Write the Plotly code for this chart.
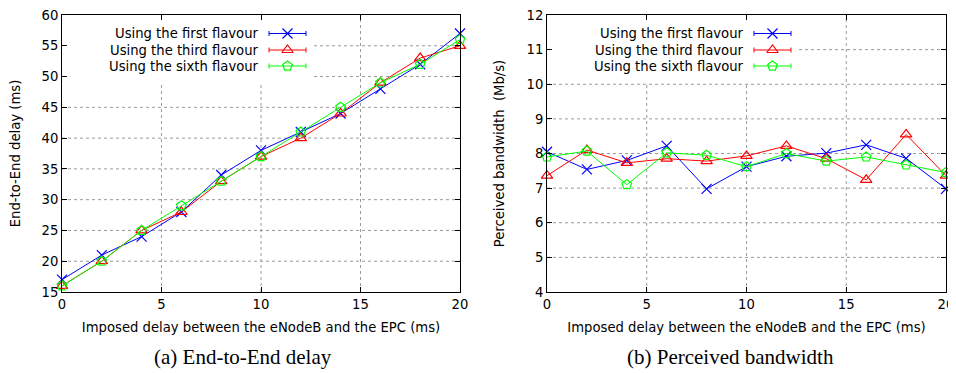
import plotly.graph_objects as go

# ---------------- data ----------------
imposed_delay = [0, 2, 4, 6, 8, 10, 12, 14, 16, 18, 20]

series_names = ["Using the first flavour", "Using the third flavour", "Using the sixth flavour"]

e2e_first = [17, 21, 24, 28, 34, 38, 41, 44, 48, 52, 57]
e2e_third = [16, 20, 25, 28, 33, 37, 40, 44, 49, 53, 55]
e2e_sixth = [16, 20, 25, 29, 33, 37, 41, 45, 49, 52, 56]

bw_first = [8.05, 7.54, 7.80, 8.22, 6.98, 7.62, 7.92, 8.01, 8.25, 7.86, 6.98]
bw_third = [7.36, 8.10, 7.73, 7.85, 7.78, 7.93, 8.22, 7.85, 7.24, 8.55, 7.36]
bw_sixth = [7.90, 8.07, 7.10, 8.02, 7.95, 7.62, 8.00, 7.78, 7.90, 7.67, 7.45]

x_ticks = [0, 5, 10, 15, 20]
e2e_ticks = [15, 20, 25, 30, 35, 40, 45, 50, 55, 60]
bw_ticks = [4, 5, 6, 7, 8, 9, 10, 11, 12]

x_title = "Imposed delay between the eNodeB and the EPC (ms)"
e2e_title = "End-to-End delay (ms)"
bw_title = "Perceived bandwidth  (Mb/s)"
captions = ["(a) End-to-End delay", "(b) Perceived bandwidth"]

# ---------------- styles ----------------
VW, VH = 956, 373          # browser window
OFF = 8                    # default page (body) margin
W, H = VW - OFF, VH - OFF  # figure size
colors = ["#0000ff", "#ff0000", "#00ff00"]
symbols = ["x-thin", "triangle-up-open", "pentagon-open"]
msizes = [10, 10, 10]
FONT = "DejaVu Sans"
FS = 13.2
GRID = dict(color="#9a9a9a", width=1, dash="dot")

# plot area, in window pixels
L1, R1 = 62, 460
L2, R2 = 547, 946
TOP, BOT = 15, 292

def px_x(p):
    return (p - OFF) / W

def px_y(p):
    return (H - (p - OFF)) / H

fig = go.Figure()

def add_series(xs, ys, i, xa, ya):
    fig.add_trace(go.Scatter(
        x=xs, y=ys, mode="lines+markers", name=series_names[i],
        line=dict(color=colors[i], width=1),
        marker=dict(symbol=symbols[i], size=msizes[i], color=colors[i],
                    line=dict(color=colors[i], width=1.2)),
        xaxis=xa, yaxis=ya, showlegend=False, cliponaxis=False))

for i, ys in enumerate([e2e_first, e2e_third, e2e_sixth]):
    add_series(imposed_delay, ys, i, "x", "y")
for i, ys in enumerate([bw_first, bw_third, bw_sixth]):
    add_series(imposed_delay, ys, i, "x2", "y2")

annotations = []
shapes = []

# ---------------- dotted grid (drawn as shapes so the legend box can hide it) ----------------
for xa, ya, yt in (("x", "y", e2e_ticks), ("x2", "y2", bw_ticks)):
    for v in x_ticks[1:-1]:
        shapes.append(dict(type="line", xref=xa, yref=ya + " domain", x0=v, x1=v, y0=0, y1=1,
                           line=GRID, layer="below"))
    for v in yt[1:-1]:
        shapes.append(dict(type="line", xref=xa + " domain", yref=ya, x0=0, x1=1, y0=v, y1=v,
                           line=GRID, layer="below"))
    # white legend box hiding the grid
    shapes.append(dict(type="rect", xref=xa + " domain", yref=ya + " domain",
                       x0=0.0, x1=250 / 398, y0=(BOT - 82) / (BOT - TOP), y1=1.0,
                       fillcolor="white", line=dict(width=0), layer="below"))

# ---------------- custom gnuplot-like legends (pixel overlay axis) ----------------
row_y = [33.5, 50, 66]
for left in (L1, L2):
    text_right = left + 199
    s0, s1 = left + 207, left + 244
    for i in range(3):
        yy = row_y[i]
        annotations.append(dict(x=text_right, y=yy, xref="x3", yref="y3", text=series_names[i],
                                showarrow=False, xanchor="right", yanchor="middle",
                                font=dict(family=FONT, size=FS, color="#000")))
        fig.add_trace(go.Scatter(x=[s0, s1], y=[yy, yy], mode="lines",
                                 line=dict(color=colors[i], width=1),
                                 xaxis="x3", yaxis="y3", showlegend=False, hoverinfo="skip"))
        fig.add_trace(go.Scatter(x=[(s0 + s1) / 2], y=[yy], mode="markers",
                                 marker=dict(symbol=symbols[i], size=msizes[i], color=colors[i],
                                             line=dict(color=colors[i], width=1.2)),
                                 xaxis="x3", yaxis="y3", showlegend=False, hoverinfo="skip"))
        for sx in (s0, s1):
            shapes.append(dict(type="line", xref="x3", yref="y3", x0=sx, x1=sx,
                               y0=yy - 2.5, y1=yy + 2.5, line=dict(color=colors[i], width=1)))

# captions
for cap, cx in zip(captions, (243, 730)):
    annotations.append(dict(x=px_x(cx), y=px_y(357), xref="paper", yref="paper", text=cap,
                            showarrow=False, xanchor="center", yanchor="middle",
                            font=dict(family="Liberation Serif", size=21, color="#000")))

axis_common = dict(showline=True, linecolor="black", linewidth=1, mirror="ticks",
                   ticks="inside", ticklen=5, tickcolor="black",
                   showgrid=False, zeroline=False, automargin=False,
                   ticklabeloverflow="allow",
                   tickfont=dict(family=FONT, size=FS, color="#000"))

fig.update_layout(
    width=W, height=H, margin=dict(l=0, r=0, t=0, b=0, autoexpand=False),
    paper_bgcolor="white", plot_bgcolor="rgba(0,0,0,0)",
    font=dict(family=FONT, size=FS, color="#000"),
    xaxis=dict(domain=[px_x(L1), px_x(R1)], range=[0, 20], tickvals=x_ticks, anchor="y",
               title=dict(text=x_title, standoff=11, font=dict(family=FONT, size=FS)), **axis_common),
    yaxis=dict(domain=[px_y(BOT), px_y(TOP)], range=[15, 60], tickvals=e2e_ticks, anchor="x",
               title=dict(text=e2e_title, standoff=18, font=dict(family=FONT, size=FS)), **axis_common),
    xaxis2=dict(domain=[px_x(L2), px_x(R2)], range=[0, 20], tickvals=x_ticks, anchor="y2",
                title=dict(text=x_title, standoff=11, font=dict(family=FONT, size=FS)), **axis_common),
    yaxis2=dict(domain=[px_y(BOT), px_y(TOP)], range=[4, 12], tickvals=bw_ticks, anchor="x2",
                title=dict(text=bw_title, standoff=18, font=dict(family=FONT, size=FS)), **axis_common),
    xaxis3=dict(domain=[0, 1], range=[OFF, OFF + W], visible=False, anchor="y3",
                fixedrange=True, automargin=False),
    yaxis3=dict(domain=[0, 1], range=[OFF + H, OFF], visible=False, anchor="x3",
                fixedrange=True, automargin=False),
    annotations=annotations, shapes=shapes,
)

fig.write_html("out.html")
